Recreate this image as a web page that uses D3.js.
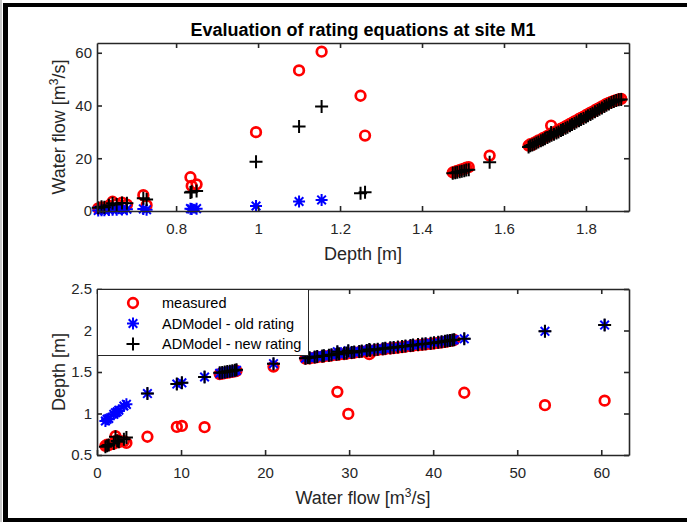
<!DOCTYPE html>
<html>
<head>
<meta charset="utf-8">
<script src="https://cdn.jsdelivr.net/npm/d3@7"></script>
<style>
  body { margin: 0; background: #fff; }
  svg { display: block; font-family: "Liberation Sans", Arial, sans-serif; }
</style>
</head>
<body>
<script>
// measured depth [m] and water flow [m3/s]
var depth = [0.610, 0.618, 0.625, 0.636, 0.645, 0.655, 0.668, 0.680, 0.720, 0.728,
  0.835, 0.838, 0.850, 0.995, 1.100, 1.155, 1.250, 1.261,
  1.475, 1.481, 1.486, 1.492, 1.497, 1.503, 1.508, 1.514, 1.565, 1.715,
  1.660, 1.664, 1.669, 1.674, 1.679, 1.684, 1.690, 1.695, 1.700, 1.706,
  1.711, 1.716, 1.722, 1.728, 1.733, 1.739, 1.744, 1.750, 1.755, 1.761,
  1.766, 1.772, 1.777, 1.783, 1.788, 1.794, 1.800, 1.805, 1.811, 1.816,
  1.822, 1.828, 1.833, 1.839, 1.845, 1.850, 1.856, 1.862, 1.868, 1.874, 1.880, 1.886];
var flowMeasured = [1.0, 1.4, 1.2, 2.0, 3.5, 2.6, 3.2, 2.4, 6.0, 2.2,
  12.8, 9.5, 10.1, 29.9, 53.3, 60.4, 43.7, 28.6,
  14.6, 14.9, 15.2, 15.5, 15.8, 16.1, 16.4, 16.6, 21.0, 32.4,
  24.8, 25.3, 25.1, 25.9, 26.2, 26.8, 27.0, 27.6, 27.9, 28.5,
  28.8, 29.4, 29.7, 30.3, 30.6, 31.2, 31.5, 32.1, 32.5, 33.0,
  33.4, 34.0, 34.3, 34.9, 35.3, 35.8, 36.3, 36.7, 37.3, 37.6,
  38.2, 38.7, 39.1, 39.7, 40.1, 40.6, 41.0, 41.4, 41.7, 42.0, 42.3, 42.5];
// rating equations applied to measured depth (top panel)
var flowOld = [0.2, 0.3, 0.3, 0.4, 0.5, 0.5, 0.6, 0.7, 0.8, 0.5,
  0.9, 0.8, 0.9, 1.9, 3.6, 4.2, null, null,
  null, null, null, null, null, null, null, null, null, null,
  null, null, null, null, null, null, null, null, null, null,
  null, null, null, null, null, null, null, null, null, null,
  null, null, null, null, null, null, null, null, null, null,
  null, null, null, null, null, null, null, null, null, null, null, null];
var flowNew = [1.2, 1.6, 1.4, 2.2, 2.9, 2.5, 3.0, 2.9, 4.8, 4.4,
  7.0, 7.3, 7.6, 18.7, 32.0, 39.6, 6.7, 7.1,
  14.3, 14.5, 14.7, 14.9, 15.1, 15.3, 15.5, 15.6, 18.5, 29.8,
  24.3, 24.7, 25.0, 25.4, 25.8, 26.2, 26.6, 27.0, 27.4, 27.9,
  28.3, 28.7, 29.1, 29.6, 30.0, 30.5, 30.9, 31.4, 31.8, 32.3,
  32.8, 33.2, 33.7, 34.2, 34.7, 35.1, 35.6, 36.1, 36.6, 37.1,
  37.6, 38.1, 38.6, 39.1, 39.6, 40.1, 40.6, 41.1, 41.5, 41.9, 42.2, 42.3];
// rating equations inverted from measured flow (bottom panel)
var depthOld = [0.91, 0.94, 0.93, 0.99, 1.11, 1.04, 1.09, 1.02, 1.24, 1.01,
  1.44, 1.355, 1.37, 1.755, 1.99, 2.065, 1.90, 1.745,
  1.485, 1.49, 1.495, 1.50, 1.505, 1.51, 1.515, 1.52, 1.60, 1.772,
  1.667, 1.672, 1.676, 1.681, 1.686, 1.692, 1.697, 1.703, 1.708, 1.714,
  1.719, 1.725, 1.730, 1.736, 1.741, 1.747, 1.752, 1.758, 1.763, 1.769,
  1.774, 1.780, 1.785, 1.791, 1.796, 1.802, 1.808, 1.813, 1.819, 1.824,
  1.830, 1.836, 1.841, 1.847, 1.853, 1.858, 1.864, 1.870, 1.876, 1.881, 1.886, 1.889];
var depthNew = [0.60, 0.62, 0.61, 0.64, 0.71, 0.66, 0.69, 0.67, 1.24, 0.72,
  1.44, 1.355, 1.37, 1.755, 1.99, 2.065, 1.90, 1.745,
  1.49, 1.495, 1.50, 1.505, 1.51, 1.515, 1.52, 1.527, 1.60, 1.772,
  1.667, 1.672, 1.676, 1.681, 1.686, 1.692, 1.697, 1.703, 1.708, 1.714,
  1.719, 1.725, 1.730, 1.736, 1.741, 1.747, 1.752, 1.758, 1.763, 1.769,
  1.774, 1.780, 1.785, 1.791, 1.796, 1.802, 1.808, 1.813, 1.819, 1.824,
  1.830, 1.836, 1.841, 1.847, 1.853, 1.858, 1.864, 1.870, 1.876, 1.881, 1.886, 1.889];

var depthTicks = [0.8, 1, 1.2, 1.4, 1.6, 1.8];
var flowTicksTop = [0, 20, 40, 60];
var flowTicksBottom = [0, 10, 20, 30, 40, 50, 60];
var depthTicksBottom = [0.5, 1, 1.5, 2, 2.5];
var legendLabels = ["measured", "ADModel - old rating", "ADModel - new rating"];

var W = 687, H = 522;
var axisColor = "#262626";

var svg = d3.select("body").append("svg").attr("width", W).attr("height", H);
svg.append("rect").attr("width", W).attr("height", H).attr("fill", "#fff");

// figure frame (left, top, bottom)
svg.append("rect").attr("x", 0).attr("y", 0).attr("width", 2).attr("height", H).attr("fill", "#c8c8c8");
svg.append("rect").attr("x", 3).attr("y", 3).attr("width", 5).attr("height", H - 3).attr("fill", "#000");
svg.append("rect").attr("x", 3).attr("y", 3).attr("width", W - 3).attr("height", 4).attr("fill", "#000");
svg.append("rect").attr("x", 3).attr("y", 518).attr("width", W - 3).attr("height", 4).attr("fill", "#000");

var xTop = d3.scaleLinear().domain([0.607, 1.905]).range([97, 629]);
var yTop = d3.scaleLinear().domain([0, 63.7]).range([211, 43]);
var xBot = d3.scaleLinear().domain([0, 63.3]).range([97, 629]);
var yBot = d3.scaleLinear().domain([0.5, 2.5]).range([455, 289]);

function drawAxes(x, y, xt, yt) {
  var g = svg.append("g");
  var x0 = x.range()[0], x1 = x.range()[1], y0 = y.range()[0], y1 = y.range()[1];
  g.append("g").attr("transform", "translate(0," + y0 + ")")
    .call(d3.axisBottom(x).tickValues(xt).tickSizeInner(-5).tickSizeOuter(0).tickPadding(12).tickFormat(function(d){ return d; }));
  g.append("g").attr("transform", "translate(0," + y1 + ")")
    .call(d3.axisTop(x).tickValues(xt).tickSizeInner(-5).tickSizeOuter(0).tickFormat(""));
  g.append("g").attr("transform", "translate(" + x0 + ",0)")
    .call(d3.axisLeft(y).tickValues(yt).tickSizeInner(-5).tickSizeOuter(0).tickPadding(5).tickFormat(function(d){ return d; }));
  g.append("g").attr("transform", "translate(" + x1 + ",0)")
    .call(d3.axisRight(y).tickValues(yt).tickSizeInner(-5).tickSizeOuter(0).tickFormat(""));
  g.selectAll(".domain").attr("stroke", axisColor).attr("stroke-width", 1.6);
  g.selectAll(".tick line").attr("stroke", axisColor).attr("stroke-width", 1.6);
  g.selectAll(".tick text").attr("fill", axisColor).style("font-size", "15px").style("font-family", null);
}

function markers(pts, kind) {
  var g = svg.append("g");
  pts = pts.filter(function(p){ return p[1] != null; });
  if (kind == "measured") {
    g.selectAll("circle").data(pts).enter().append("circle")
      .attr("cx", function(p){ return p[0]; }).attr("cy", function(p){ return p[1]; })
      .attr("r", 4.8).attr("fill", "none").attr("stroke", "#ff0000").attr("stroke-width", 2.7);
  } else if (kind == "old") {
    g.selectAll("path").data(pts).enter().append("path")
      .attr("transform", function(p){ return "translate(" + p[0] + "," + p[1] + ")"; })
      .attr("d", "M-6,0H6M0,-6V6M-4.3,-4.3L4.3,4.3M-4.3,4.3L4.3,-4.3")
      .attr("stroke", "#0000ff").attr("stroke-width", 2).attr("fill", "none");
  } else {
    g.selectAll("path").data(pts).enter().append("path")
      .attr("transform", function(p){ return "translate(" + p[0] + "," + p[1] + ")"; })
      .attr("d", "M-6.5,0H6.5M0,-6.5V6.5")
      .attr("stroke", "#000").attr("stroke-width", 2).attr("fill", "none");
  }
}

// top panel: flow vs depth
markers(depth.map(function(d, i){ return [xTop(d), yTop(flowMeasured[i])]; }), "measured");
markers(depth.map(function(d, i){ return [xTop(d), flowOld[i] == null ? null : yTop(flowOld[i])]; }), "old");
markers(depth.map(function(d, i){ return [xTop(d), flowNew[i] == null ? null : yTop(flowNew[i])]; }), "new");
drawAxes(xTop, yTop, depthTicks, flowTicksTop);

// bottom panel: depth vs flow
markers(flowMeasured.map(function(q, i){ return [xBot(q), yBot(depth[i])]; }), "measured");
markers(flowMeasured.map(function(q, i){ return [xBot(q), depthOld[i] == null ? null : yBot(depthOld[i])]; }), "old");
markers(flowMeasured.map(function(q, i){ return [xBot(q), depthNew[i] == null ? null : yBot(depthNew[i])]; }), "new");
drawAxes(xBot, yBot, flowTicksBottom, depthTicksBottom);

// title and labels
svg.append("text").attr("x", 363).attr("y", 36).attr("text-anchor", "middle")
  .style("font-size", "18px").style("font-weight", "bold").attr("fill", "#000")
  .text("Evaluation of rating equations at site M1");

function flowLabel(sel) {
  sel.append("tspan").text("Water flow [m");
  sel.append("tspan").attr("dy", -7).style("font-size", "12px").text("3");
  sel.append("tspan").attr("dy", 7).text("/s]");
}
svg.append("text").attr("transform", "translate(65,127) rotate(-90)").attr("text-anchor", "middle")
  .style("font-size", "18px").attr("fill", axisColor).call(flowLabel);
svg.append("text").attr("x", 363).attr("y", 260).attr("text-anchor", "middle")
  .style("font-size", "18px").attr("fill", axisColor).text("Depth [m]");
svg.append("text").attr("transform", "translate(65,372) rotate(-90)").attr("text-anchor", "middle")
  .style("font-size", "18px").attr("fill", axisColor).text("Depth [m]");
svg.append("text").attr("x", 363).attr("y", 504).attr("text-anchor", "middle")
  .style("font-size", "18px").attr("fill", axisColor).call(flowLabel);

// legend
var lg = svg.append("g");
lg.append("rect").attr("x", 97.5).attr("y", 289.5).attr("width", 211).attr("height", 66)
  .attr("fill", "#fff").attr("stroke", axisColor).attr("stroke-width", 1);
var kinds = ["measured", "old", "new"];
legendLabels.forEach(function(t, i){
  var yy = 303 + i * 20.5;
  markers([[133, yy]], kinds[i]);
  svg.append("text").attr("x", 162).attr("y", yy).attr("dy", "0.35em")
    .style("font-size", "14.5px").attr("fill", "#000").text(t);
});
</script>
</body>
</html>
